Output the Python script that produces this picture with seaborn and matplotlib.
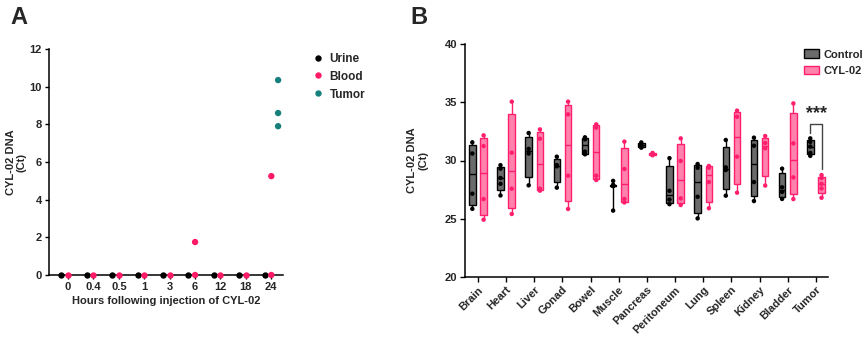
import numpy as np
import pandas as pd
import matplotlib
matplotlib.use("Agg")
import matplotlib.pyplot as plt
import matplotlib.cbook
from matplotlib.patches import Patch
from matplotlib.lines import Line2D
import seaborn as sns

# ---------------- Panel A data ----------------
hours = ["0", "0.4", "0.5", "1", "3", "6", "12", "18", "24"]
urine_vals = {h: [0.0] for h in hours}
blood_vals = {"0": [0.0], "0.4": [0.0], "0.5": [0.0], "1": [0.0], "3": [0.0],
              "6": [0.0, 1.75], "12": [0.0], "18": [0.0], "24": [0.0, 5.25]}
tumor_vals = {"24": [10.35, 8.6, 7.9]}
a_series = ["Urine", "Blood", "Tumor"]

# ---------------- Panel B data ----------------
organs = ["Brain", "Heart", "Liver", "Gonad", "Bowel", "Muscle", "Pancreas",
          "Peritoneum", "Lung", "Spleen", "Kidney", "Bladder", "Tumor"]
control = {
    "Brain": [31.56, 30.6, 27.15, 25.85],
    "Heart": [29.6, 29.3, 28.5, 28.0, 27.0],
    "Liver": [32.36, 31.0, 30.6, 27.87],
    "Gonad": [30.33, 29.61, 29.5, 27.67],
    "Bowel": [31.99, 31.82, 30.76, 30.53],
    "Muscle": [28.25, 27.9, 27.88, 27.85, 27.82, 27.8, 25.7],
    "Pancreas": [31.55, 31.35, 31.25, 31.1],
    "Peritoneum": [30.2, 27.4, 26.65, 26.25],
    "Lung": [29.7, 29.38, 26.89, 25.03],
    "Spleen": [31.76, 29.41, 29.18, 26.98],
    "Kidney": [31.96, 31.27, 28.15, 26.52],
    "Bladder": [29.3, 27.7, 27.3, 26.7],
    "Tumor": [31.9, 31.6, 31.2, 30.65, 30.4],
}
cyl02 = {
    "Brain": [32.16, 31.24, 26.69, 24.92],
    "Heart": [35.05, 30.67, 27.58, 25.41],
    "Liver": [32.67, 31.87, 27.58, 27.41],
    "Gonad": [35.05, 33.96, 28.7, 25.84],
    "Bowel": [33.1, 32.82, 28.7, 28.33],
    "Muscle": [31.62, 29.27, 26.7, 26.4],
    "Pancreas": [30.45, 30.55, 30.65],
    "Peritoneum": [31.9, 29.96, 26.75, 26.18],
    "Lung": [29.53, 29.38, 28.15, 25.9],
    "Spleen": [34.28, 33.76, 30.33, 27.24],
    "Kidney": [32.1, 31.5, 31.05, 27.85],
    "Bladder": [34.9, 31.47, 28.55, 26.69],
    "Tumor": [28.75, 28.5, 28.0, 27.6, 26.8],
}
groups = ["Control", "CYL-02"]

# colours
c_urine = "#000000"
c_blood = "#ff1a66"
c_tumor = "#17807d"
c_ctrl_fill = "#6b6b6b"
c_cyl_fill = "#ff82ad"
c_cyl_edge = "#ff1f6e"

# Quartiles computed as in the original software ((n+1)p positions)
_orig_stats = matplotlib.cbook.boxplot_stats


def _weibull_stats(X, whis=1.5, bootstrap=None, labels=None, autorange=False):
    out = _orig_stats(X, whis=whis, bootstrap=bootstrap, labels=labels, autorange=autorange)
    arrays = matplotlib.cbook._reshape_2D(X, "X")
    for st, x in zip(out, arrays):
        x = np.asarray(x, float)
        if x.size:
            q1, med, q3 = np.percentile(x, [25, 50, 75], method="weibull")
            st["q1"], st["med"], st["q3"], st["iqr"] = q1, med, q3, q3 - q1
    return out


matplotlib.cbook.boxplot_stats = _weibull_stats

# ---------------- build frames ----------------
rows = []
for name, d in zip(a_series, [urine_vals, blood_vals, tumor_vals]):
    for h, vals in d.items():
        for v in vals:
            rows.append({"hours": h, "value": v, "series": name})
dfA = pd.DataFrame(rows)

rows = []
for g, d in zip(groups, [control, cyl02]):
    for o in organs:
        for v in d[o]:
            rows.append({"organ": o, "ct": v, "group": g})
dfB = pd.DataFrame(rows)

# ---------------- figure ----------------
sns.set_theme(style="white")
plt.rcParams["font.family"] = ["Liberation Sans", "DejaVu Sans"]
plt.rcParams["font.weight"] = "bold"

fig = plt.figure(figsize=(8.66, 3.37), dpi=100)
axA = fig.add_axes([49 / 866, 1 - 275 / 337, 234 / 866, 226 / 337])
axB = fig.add_axes([465 / 866, 1 - 277 / 337, 363 / 866, 233 / 337])

# ----- Panel A -----
sns.stripplot(data=dfA, x="hours", y="value", hue="series", order=hours,
              hue_order=a_series, dodge=True, jitter=False,
              palette=[c_urine, c_blood, c_tumor], size=4.6, linewidth=0,
              ax=axA, zorder=5, legend=False)
axA.set_xlim(-0.75, 8.46)
axA.set_ylim(0, 12)
axA.set_yticks(np.arange(0, 13, 2))
axA.set_xlabel("Hours following injection of CYL-02", fontsize=8, fontweight="bold", labelpad=3)
axA.set_ylabel("CYL-02 DNA\n(Ct)", fontsize=8, fontweight="bold", labelpad=2, linespacing=1.1)
for sp in ["top", "right"]:
    axA.spines[sp].set_visible(False)
for sp in ["left", "bottom"]:
    axA.spines[sp].set_color("black")
    axA.spines[sp].set_linewidth(1.1)
axA.tick_params(axis="both", direction="out", length=3, width=1.0, color="black",
                labelsize=8, pad=2, left=True, bottom=True)
for lab in axA.get_xticklabels() + axA.get_yticklabels():
    lab.set_fontweight("bold")
for c in axA.collections:
    c.set_clip_on(False)

handlesA = [Line2D([], [], marker="o", linestyle="", markersize=4.6, color=c, markeredgewidth=0)
            for c in [c_urine, c_blood, c_tumor]]
fig.legend(handlesA, a_series, loc="upper left", bbox_to_anchor=(306 / 866, 1 - 48 / 337),
           frameon=False, handletextpad=0.4, labelspacing=0.5,
           handlelength=1.2, borderaxespad=0, prop={"weight": "bold", "size": 8.5})

fig.text(10 / 866, 1 - 6 / 337, "A", fontsize=17, fontweight="bold", va="top", ha="left")
fig.text(410 / 866, 1 - 6 / 337, "B", fontsize=17, fontweight="bold", va="top", ha="left")

# ----- Panel B -----
for g, fill, edge in [("Control", c_ctrl_fill, "black"), ("CYL-02", c_cyl_fill, c_cyl_edge)]:
    sub = dfB[dfB["group"] == g]
    sns.boxplot(data=sub, x="organ", y="ct", hue="group", order=organs, hue_order=groups,
                dodge=True, width=0.8, gap=0.42, whis=(0, 100), showfliers=False,
                showcaps=False, palette={"Control": fill, "CYL-02": fill},
                linecolor=edge, linewidth=1.0, saturation=1, ax=axB, legend=False)
sns.stripplot(data=dfB, x="organ", y="ct", hue="group", order=organs, hue_order=groups,
              dodge=True, jitter=False, palette={"Control": "black", "CYL-02": c_cyl_edge},
              size=3.2, linewidth=0, ax=axB, legend=False, zorder=4)

axB.set_xlim(-0.46, 12.43)
axB.set_ylim(20, 40)
axB.set_yticks([20, 25, 30, 35, 40])
axB.set_xlabel("")
axB.set_ylabel("CYL-02 DNA\n(Ct)", fontsize=8, fontweight="bold", labelpad=12, linespacing=1.1)
for sp in ["top", "right"]:
    axB.spines[sp].set_visible(False)
for sp in ["left", "bottom"]:
    axB.spines[sp].set_color("black")
    axB.spines[sp].set_linewidth(1.1)
axB.tick_params(axis="both", direction="out", length=3.5, width=1.0, color="black",
                labelsize=8, pad=2, left=True, bottom=True)
plt.setp(axB.get_xticklabels(), rotation=45, ha="right", rotation_mode="anchor",
         fontweight="bold")
plt.setp(axB.get_yticklabels(), fontweight="bold")

# significance bracket on Tumor
ti = organs.index("Tumor")
xl, xr = ti - 0.2, ti + 0.2
ytop = max(control["Tumor"]) + 1.2
axB.plot([xl, xl, xr, xr],
         [max(control["Tumor"]) + 0.45, ytop, ytop, max(cyl02["Tumor"]) + 0.5],
         color="#444444", linewidth=1.0, clip_on=False)
axB.text(ti + 0.03, ytop + 0.2, "***", ha="center", va="bottom", fontsize=13,
         fontweight="bold")

handlesB = [Patch(facecolor=c_ctrl_fill, edgecolor="black", linewidth=1.0),
            Patch(facecolor=c_cyl_fill, edgecolor=c_cyl_edge, linewidth=1.0)]
fig.legend(handlesB, groups, loc="upper left", bbox_to_anchor=(800 / 866, 1 - 45 / 337),
           frameon=False, handletextpad=0.4, labelspacing=0.55, handlelength=1.3,
           handleheight=0.8, borderaxespad=0, prop={"weight": "bold", "size": 8})

fig.savefig("out.png", dpi=100)
